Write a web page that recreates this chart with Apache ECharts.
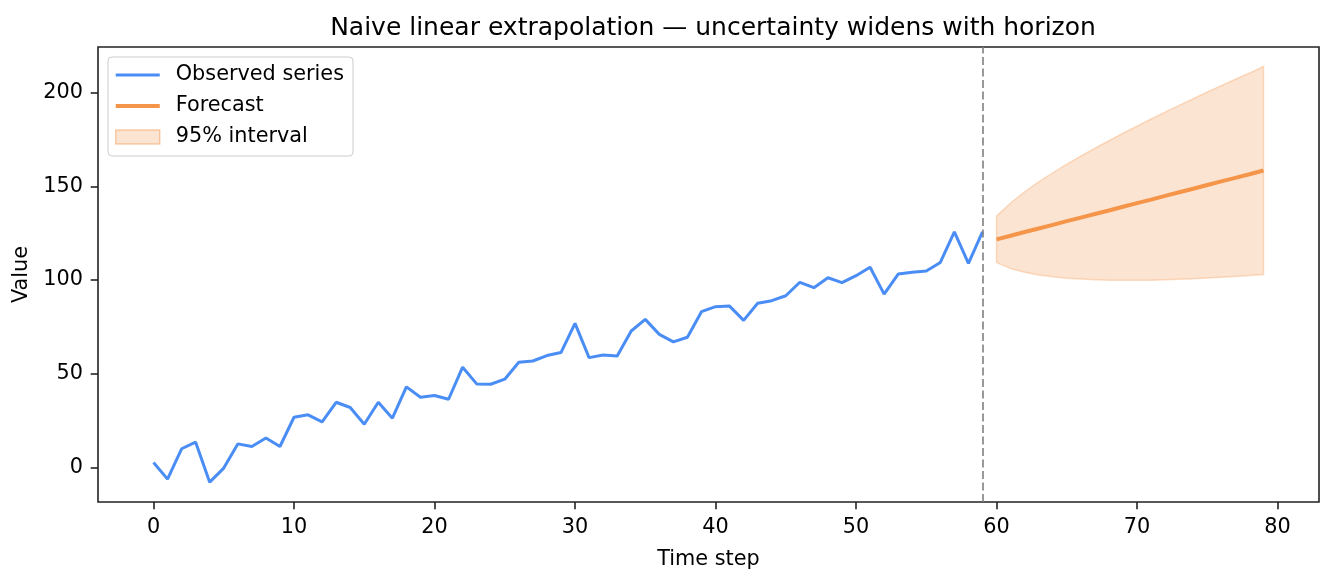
<!DOCTYPE html>
<html>
<head>
<meta charset="utf-8">
<script src="https://cdn.jsdelivr.net/npm/echarts@6/dist/echarts.min.js"></script>
<style>
  html, body { margin: 0; padding: 0; background: #fff; }
  #chart { width: 1334px; height: 581px; }
</style>
</head>
<body>
<div id="chart"></div>
<script>
// observed series, one value per time step from 0
const observedValues = [
  2.7, -6.2, 10.0, 13.5, -7.8, -0.3, 12.6, 11.2, 15.7, 11.2,
  26.8, 28.1, 24.3, 34.8, 32.0, 23.1, 34.8, 26.3, 43.0, 37.5,
  38.4, 36.4, 53.5, 44.6, 44.4, 47.1, 56.1, 56.8, 59.7, 61.3,
  76.9, 58.6, 60.0, 59.5, 72.8, 79.0, 71.0, 67.0, 69.5, 83.1,
  85.8, 86.1, 78.5, 87.6, 89.0, 91.6, 98.8, 95.9, 101.2, 98.6,
  102.3, 106.8, 92.5, 103.2, 104.1, 104.8, 109.4, 125.7, 108.9, 125.7
]

const forecastSteps = [60, 61, 62, 63, 64, 65, 66, 67, 68, 69, 70, 71, 72, 73, 74, 75, 76, 77, 78, 79]
const forecastValues = [
  121.7, 123.6, 125.6, 127.5, 129.4, 131.4, 133.3, 135.2, 137.1, 139.1,
  141.0, 142.9, 144.9, 146.8, 148.7, 150.7, 152.6, 154.5, 156.4, 158.4
]
const upperValues = [
  134.1, 141.1, 147.1, 152.3, 157.1, 161.8, 166.1, 170.3, 174.3, 178.3,
  182.1, 185.9, 189.6, 193.2, 196.7, 200.3, 203.7, 207.1, 210.4, 213.9
]
const lowerValues = [
  109.3, 106.1, 104.1, 102.7, 101.7, 101.0, 100.5, 100.1, 99.9, 99.9,
  99.9, 99.9, 100.2, 100.4, 100.7, 101.1, 101.5, 101.9, 102.4, 102.9
]

const xTicks = [0, 10, 20, 30, 40, 50, 60, 70, 80]
const yTicks = [0, 50, 100, 150, 200]

const FONT = 'DejaVu Sans'
const obsColor = '#4A8DF5'
const fcColor = '#F5954A'
const bandFill = 'rgba(245,149,74,0.25)'
const bandEdge = 'rgba(245,149,74,0.3)'
const axisColor = '#222'

const bandData = forecastSteps.map((s, i) => [s, lowerValues[i], upperValues[i]])

function renderBand(params, api) {
  if (params.dataIndex !== 0) return null
  const pts = []
  bandData.forEach(d => pts.push(api.coord([d[0], d[2]])))
  for (let i = bandData.length - 1; i >= 0; i--) pts.push(api.coord([bandData[i][0], bandData[i][1]]))
  return {
    type: 'polygon',
    shape: { points: pts },
    style: { fill: bandFill, stroke: bandEdge, lineWidth: 1.5 },
  }
}

const chart = echarts.init(document.getElementById('chart'), null, { renderer: 'canvas' })
chart.setOption({
  animation: false,
  backgroundColor: '#fff',
  textStyle: { fontFamily: FONT },
  title: {
    text: 'Naive linear extrapolation — uncertainty widens with horizon',
    left: 708,
    top: 11,
    textAlign: 'center',
    textStyle: { fontFamily: FONT, fontSize: 25, fontWeight: 'normal', color: '#000' },
  },
  grid: {
    left: 98, right: 15, top: 47, bottom: 79,
    show: true, borderColor: axisColor, borderWidth: 1.6, backgroundColor: 'transparent',
  },
  legend: {
    orient: 'vertical',
    left: 108,
    top: 57,
    padding: [7, 9, 8, 7],
    itemWidth: 44,
    itemHeight: 14,
    itemGap: 9,
    backgroundColor: 'rgba(255,255,255,0.8)',
    borderColor: '#cccccc',
    borderWidth: 1,
    borderRadius: 4,
    textStyle: { fontFamily: FONT, fontSize: 20.8, color: '#000', lineHeight: 22, padding: [0, 0, 0, 11] },
    data: [
      { name: 'Observed series', icon: 'path://M0,0H44V3H0Z', itemStyle: { color: obsColor } },
      { name: 'Forecast', icon: 'path://M0,0H44V4H0Z', itemStyle: { color: fcColor } },
      { name: '95% interval', icon: 'rect', itemStyle: { color: bandFill, borderColor: 'rgba(245,149,74,0.45)', borderWidth: 1.5 } },
    ],
  },
  xAxis: {
    type: 'value',
    min: -3.95,
    max: 82.95,
    name: 'Time step',
    nameLocation: 'middle',
    nameGap: 47,
    nameTextStyle: { fontFamily: FONT, fontSize: 20.8, color: '#000' },
    axisLine: { show: false, onZero: false },
    axisTick: { show: true, length: 7.3, lineStyle: { color: axisColor, width: 1.6 }, customValues: xTicks },
    axisLabel: { fontFamily: FONT, fontSize: 20.8, color: '#000', margin: 15, customValues: xTicks },
    splitLine: { show: false },
  },
  yAxis: {
    type: 'value',
    min: -18.4,
    max: 224.3,
    name: 'Value',
    nameLocation: 'middle',
    nameRotate: 90,
    nameGap: 64,
    nameTextStyle: { fontFamily: FONT, fontSize: 20.8, color: '#000' },
    axisLine: { show: false, onZero: false },
    axisTick: { show: true, length: 7.3, lineStyle: { color: axisColor, width: 1.6 }, customValues: yTicks },
    axisLabel: { fontFamily: FONT, fontSize: 20.8, color: '#000', margin: 15, customValues: yTicks },
    splitLine: { show: false },
  },
  series: [
    {
      name: '95% interval',
      type: 'custom',
      renderItem: renderBand,
      itemStyle: { color: bandFill },
      encode: { x: 0, y: [1, 2] },
      data: bandData,
      z: 1,
      silent: true,
    },
    {
      name: 'Observed series',
      type: 'line',
      data: observedValues.map((v, i) => [i, v]),
      showSymbol: false,
      symbol: 'none',
      lineStyle: { color: obsColor, width: 3 },
      itemStyle: { color: obsColor },
      z: 3,
      markLine: {
        silent: true,
        symbol: ['none', 'none'],
        label: { show: false },
        lineStyle: { color: '#808080', width: 1.6, type: [8, 3.5] },
        data: [{ xAxis: observedValues.length - 1 }],
      },
    },
    {
      name: 'Forecast',
      type: 'line',
      data: forecastSteps.map((s, i) => [s, forecastValues[i]]),
      showSymbol: false,
      symbol: 'none',
      lineStyle: { color: fcColor, width: 4 },
      itemStyle: { color: fcColor },
      z: 4,
    },
  ],
})
</script>
</body>
</html>
